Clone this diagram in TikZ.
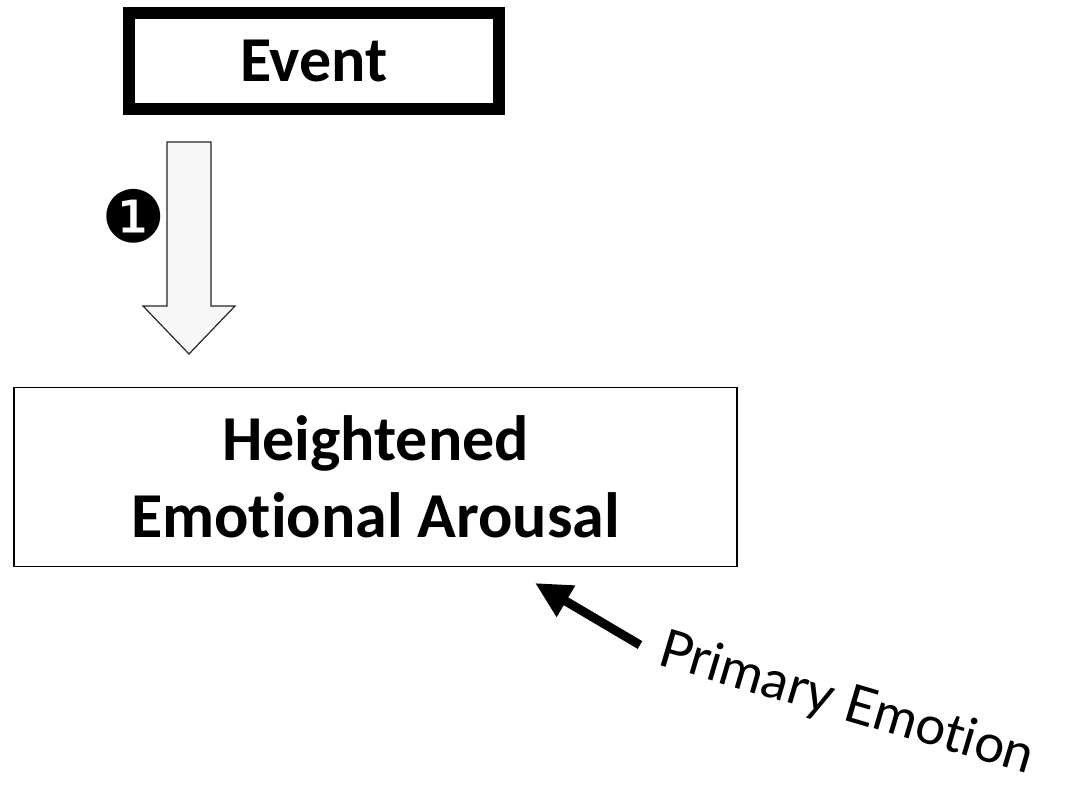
\documentclass[tikz,border=0pt]{standalone}
\usepackage{fontspec}
\setmainfont[Ligatures=NoCommon]{Carlito}
\newfontfamily\dejavu{DejaVu Sans}
\newfontfamily\handfont[Ligatures=NoCommon]{Lato}
\usetikzlibrary{arrows.meta}
\begin{document}
\begin{tikzpicture}[x=1pt,y=-1pt,
  eventbox/.style={draw=black,line width=12pt,minimum width=370pt,minimum height=96pt,inner sep=0pt,font=\fontsize{64}{76}\selectfont\bfseries},
  arousalbox/.style={draw=black,line width=1.3pt,minimum width=723pt,minimum height=179pt,inner sep=0pt,align=center,font=\fontsize{64}{77}\selectfont\bfseries},
  blockarrow/.style={draw=black!85,fill=black!3,line width=1.2pt,line join=miter},
  pointer/.style={line width=9pt,-{Triangle[length=36pt,width=34pt]}},
  hand/.style={font=\handfont\fontsize{53}{60}\selectfont}]
\useasboundingbox (0,0) rectangle (1080,789);
\node[eventbox] (event) at (314,61) {Event};
\node[arousalbox] (arousal) at (375.5,477) {Heightened\\Emotional Arousal};
\coordinate (atop) at (189,142);
\coordinate (atip) at (189,354);
\draw[blockarrow] (atop) ++(-22,0) -- ++(44,0) -- ++(0,164) -- ++(24,0) -- (atip) -- ++(-46,-48) -- ++(24,0) -- cycle;
\node[font=\dejavu\fontsize{72}{80}\selectfont,inner sep=0pt] (num) at (134,216) {❶};
\coordinate (ptail) at (640,645);
\coordinate (ptip) at (535,583);
\draw[pointer] (ptail) -- (ptip);
\node[hand,rotate=-16.5,anchor=base west,inner sep=0pt] (primary) at (656,664) {Primary Emotion};
\end{tikzpicture}
\end{document}
